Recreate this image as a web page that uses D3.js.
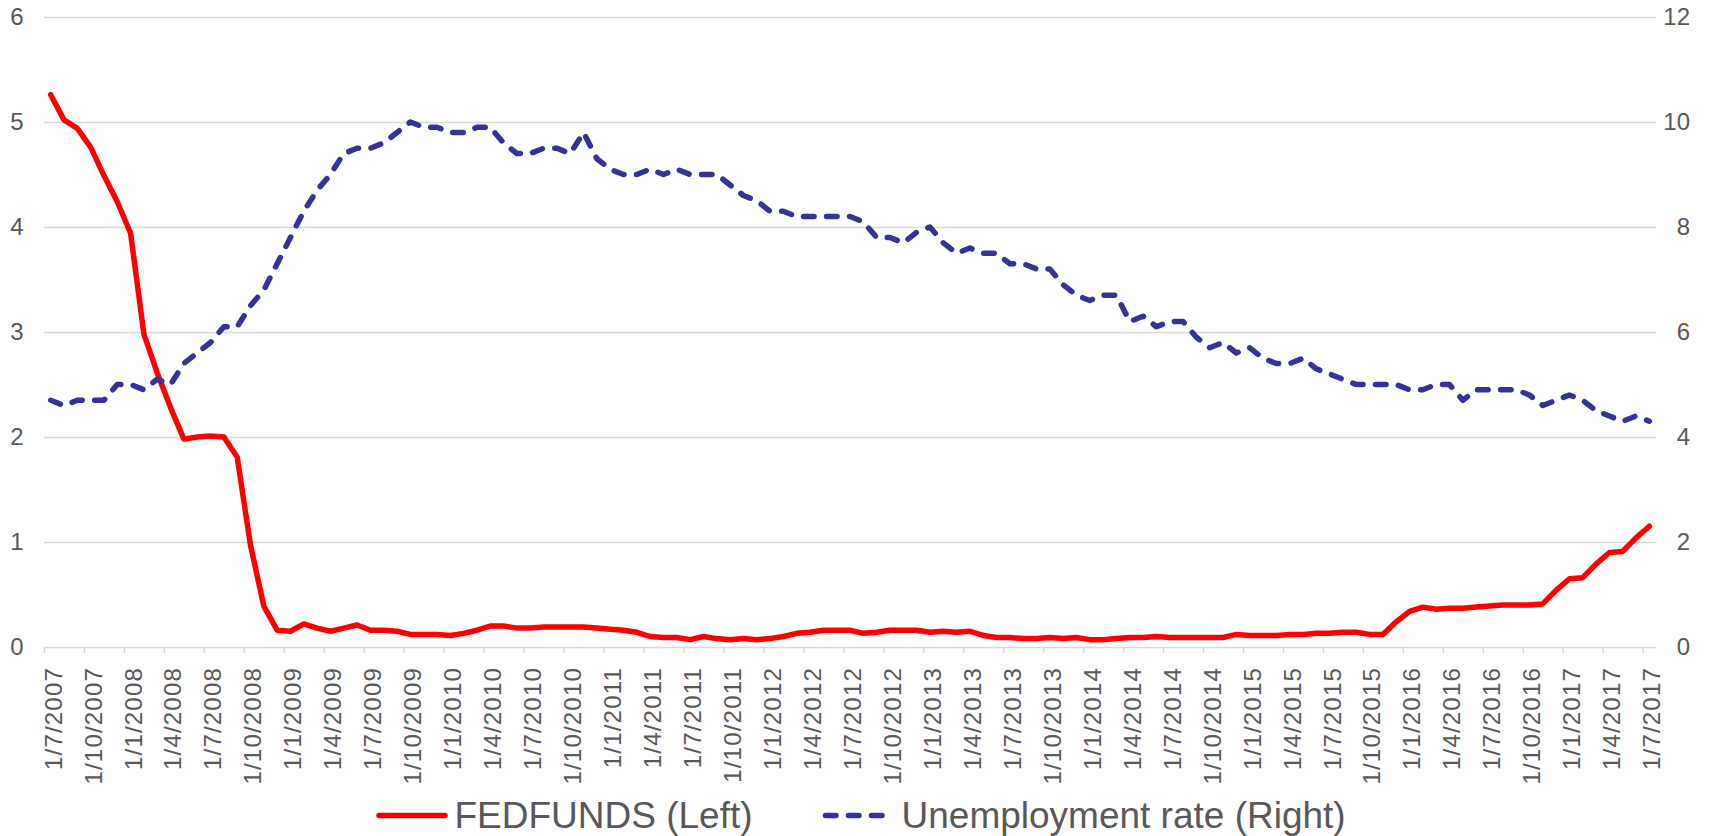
<!DOCTYPE html>
<html>
<head>
<meta charset="utf-8">
<script src="https://cdn.jsdelivr.net/npm/d3@7"></script>
<style>
  html, body { margin: 0; padding: 0; background: #ffffff; }
  svg { display: block; font-family: "Liberation Sans", Arial, sans-serif; }
</style>
</head>
<body>
<svg id="chart" width="1721" height="836"></svg>
<script>
// Categories: months from Jul 2007 to Jul 2017 (day/month/year)
const categories = [
  "1/7/2007","1/8/2007","1/9/2007","1/10/2007","1/11/2007","1/12/2007",
  "1/1/2008","1/2/2008","1/3/2008","1/4/2008","1/5/2008","1/6/2008","1/7/2008","1/8/2008","1/9/2008","1/10/2008","1/11/2008","1/12/2008",
  "1/1/2009","1/2/2009","1/3/2009","1/4/2009","1/5/2009","1/6/2009","1/7/2009","1/8/2009","1/9/2009","1/10/2009","1/11/2009","1/12/2009",
  "1/1/2010","1/2/2010","1/3/2010","1/4/2010","1/5/2010","1/6/2010","1/7/2010","1/8/2010","1/9/2010","1/10/2010","1/11/2010","1/12/2010",
  "1/1/2011","1/2/2011","1/3/2011","1/4/2011","1/5/2011","1/6/2011","1/7/2011","1/8/2011","1/9/2011","1/10/2011","1/11/2011","1/12/2011",
  "1/1/2012","1/2/2012","1/3/2012","1/4/2012","1/5/2012","1/6/2012","1/7/2012","1/8/2012","1/9/2012","1/10/2012","1/11/2012","1/12/2012",
  "1/1/2013","1/2/2013","1/3/2013","1/4/2013","1/5/2013","1/6/2013","1/7/2013","1/8/2013","1/9/2013","1/10/2013","1/11/2013","1/12/2013",
  "1/1/2014","1/2/2014","1/3/2014","1/4/2014","1/5/2014","1/6/2014","1/7/2014","1/8/2014","1/9/2014","1/10/2014","1/11/2014","1/12/2014",
  "1/1/2015","1/2/2015","1/3/2015","1/4/2015","1/5/2015","1/6/2015","1/7/2015","1/8/2015","1/9/2015","1/10/2015","1/11/2015","1/12/2015",
  "1/1/2016","1/2/2016","1/3/2016","1/4/2016","1/5/2016","1/6/2016","1/7/2016","1/8/2016","1/9/2016","1/10/2016","1/11/2016","1/12/2016",
  "1/1/2017","1/2/2017","1/3/2017","1/4/2017","1/5/2017","1/6/2017","1/7/2017"
];

// FEDFUNDS (left axis, %)
const fedfunds = [
  5.26, 5.02, 4.94, 4.76, 4.49, 4.24,
  3.94, 2.98, 2.61, 2.28, 1.98, 2.00, 2.01, 2.00, 1.81, 0.97, 0.39, 0.16,
  0.15, 0.22, 0.18, 0.15, 0.18, 0.21, 0.16, 0.16, 0.15, 0.12, 0.12, 0.12,
  0.11, 0.13, 0.16, 0.20, 0.20, 0.18, 0.18, 0.19, 0.19, 0.19, 0.19, 0.18,
  0.17, 0.16, 0.14, 0.10, 0.09, 0.09, 0.07, 0.10, 0.08, 0.07, 0.08, 0.07,
  0.08, 0.10, 0.13, 0.14, 0.16, 0.16, 0.16, 0.13, 0.14, 0.16, 0.16, 0.16,
  0.14, 0.15, 0.14, 0.15, 0.11, 0.09, 0.09, 0.08, 0.08, 0.09, 0.08, 0.09,
  0.07, 0.07, 0.08, 0.09, 0.09, 0.10, 0.09, 0.09, 0.09, 0.09, 0.09, 0.12,
  0.11, 0.11, 0.11, 0.12, 0.12, 0.13, 0.13, 0.14, 0.14, 0.12, 0.12, 0.24,
  0.34, 0.38, 0.36, 0.37, 0.37, 0.38, 0.39, 0.40, 0.40, 0.40, 0.41, 0.54,
  0.65, 0.66, 0.79, 0.90, 0.91, 1.04, 1.15
];

// Unemployment rate (right axis, %)
const unemployment = [
  4.7, 4.6, 4.7, 4.7, 4.7, 5.0,
  5.0, 4.9, 5.1, 5.0, 5.4, 5.6, 5.8, 6.1, 6.1, 6.5, 6.8, 7.3,
  7.8, 8.3, 8.7, 9.0, 9.4, 9.5, 9.5, 9.6, 9.8, 10.0, 9.9, 9.9,
  9.8, 9.8, 9.9, 9.9, 9.6, 9.4, 9.4, 9.5, 9.5, 9.4, 9.8, 9.3,
  9.1, 9.0, 9.0, 9.1, 9.0, 9.1, 9.0, 9.0, 9.0, 8.8, 8.6, 8.5,
  8.3, 8.3, 8.2, 8.2, 8.2, 8.2, 8.2, 8.1, 7.8, 7.8, 7.7, 7.9,
  8.0, 7.7, 7.5, 7.6, 7.5, 7.5, 7.3, 7.3, 7.2, 7.2, 6.9, 6.7,
  6.6, 6.7, 6.7, 6.2, 6.3, 6.1, 6.2, 6.2, 5.9, 5.7, 5.8, 5.6,
  5.7, 5.5, 5.4, 5.4, 5.5, 5.3, 5.2, 5.1, 5.0, 5.0, 5.0, 5.0,
  4.9, 4.9, 5.0, 5.0, 4.7, 4.9, 4.9, 4.9, 4.9, 4.8, 4.6, 4.7,
  4.8, 4.7, 4.5, 4.4, 4.3, 4.4, 4.3
];

// Axis tick values / labels
const leftTicks = [0, 1, 2, 3, 4, 5, 6];
const rightTicks = [0, 2, 4, 6, 8, 10, 12];
const tickLabels = [
  "1/7/2007","1/10/2007","1/1/2008","1/4/2008","1/7/2008","1/10/2008","1/1/2009","1/4/2009","1/7/2009","1/10/2009",
  "1/1/2010","1/4/2010","1/7/2010","1/10/2010","1/1/2011","1/4/2011","1/7/2011","1/10/2011","1/1/2012","1/4/2012",
  "1/7/2012","1/10/2012","1/1/2013","1/4/2013","1/7/2013","1/10/2013","1/1/2014","1/4/2014","1/7/2014","1/10/2014",
  "1/1/2015","1/4/2015","1/7/2015","1/10/2015","1/1/2016","1/4/2016","1/7/2016","1/10/2016","1/1/2017","1/4/2017","1/7/2017"
];
const seriesNames = ["FEDFUNDS (Left)", "Unemployment rate (Right)"];

(function draw() {
  const svg = d3.select("#chart");
  const pLeft = 44, pRight = 1656, pTop = 17, pBottom = 647;
  const textColor = "#595959", gridColor = "#d9d9d9";
  const red = "#ff0000", blue = "#333399";
  const font = "Liberation Sans, Arial, sans-serif";

  const x = d3.scaleLinear().domain([0, categories.length]).range([pLeft, pRight]);
  const yL = d3.scaleLinear().domain([0, 6]).range([pBottom, pTop]);
  const yR = d3.scaleLinear().domain([0, 12]).range([pBottom, pTop]);

  // gridlines + left labels
  const gl = svg.append("g").attr("transform", `translate(${pLeft},0)`)
    .call(d3.axisLeft(yL).tickValues(leftTicks).tickSize(-(pRight - pLeft)).tickPadding(20.5).tickFormat(d3.format("d")));
  gl.select(".domain").remove();
  gl.selectAll(".tick line").attr("stroke", gridColor).attr("stroke-width", 1.3);
  gl.selectAll(".tick text").attr("fill", textColor).attr("font-size", 24).attr("font-family", font);

  // right labels
  const gr = svg.append("g").attr("transform", `translate(${pRight},0)`)
    .call(d3.axisRight(yR).tickValues(rightTicks).tickSize(0).tickPadding(34).tickFormat(d3.format("d")));
  gr.select(".domain").remove();
  gr.selectAll(".tick text").attr("fill", textColor).attr("font-size", 24)
    .attr("text-anchor", "end").attr("font-family", font);

  // bottom tick marks at category boundaries every 3 months
  const gt = svg.append("g").attr("transform", `translate(0,${pBottom})`)
    .call(d3.axisBottom(x).tickValues(d3.range(0, categories.length, 3)).tickSize(6).tickFormat(""));
  gt.select(".domain").remove();
  gt.selectAll(".tick line").attr("stroke", gridColor).attr("stroke-width", 1.3);

  // bottom labels centered on categories
  const gx = svg.append("g").attr("transform", `translate(0,${pBottom})`)
    .call(d3.axisBottom(x).tickValues(d3.range(0, categories.length, 3).map(i => i + 0.5))
      .tickSize(0).tickFormat((d, k) => tickLabels[k]));
  gx.select(".domain").remove();
  gx.selectAll(".tick text")
    .attr("fill", textColor).attr("font-size", 24).attr("letter-spacing", 1.2)
    .attr("font-family", font)
    .attr("transform", "rotate(-90)")
    .attr("text-anchor", "end")
    .attr("x", -20).attr("y", 2).attr("dy", "0.35em");

  // lines
  const lineL = d3.line().x((d, i) => x(i + 0.5)).y(d => yL(d));
  const lineR = d3.line().x((d, i) => x(i + 0.5)).y(d => yR(d));

  svg.append("path").datum(fedfunds).attr("d", lineL)
    .attr("fill", "none").attr("stroke", red).attr("stroke-width", 5.5)
    .attr("stroke-linejoin", "round").attr("stroke-linecap", "round");

  svg.append("path").datum(unemployment).attr("d", lineR)
    .attr("fill", "none").attr("stroke", blue).attr("stroke-width", 5.5)
    .attr("stroke-linejoin", "round").attr("stroke-linecap", "round")
    .attr("stroke-dasharray", "10.5,12.5");

  // legend
  const ly = 815.5;
  const lg = svg.append("g").attr("font-family", font);
  lg.append("line").attr("x1", 379).attr("x2", 445).attr("y1", ly).attr("y2", ly)
    .attr("stroke", red).attr("stroke-width", 5.5).attr("stroke-linecap", "round");
  lg.append("text").attr("x", 454.5).attr("y", 827.5).attr("fill", textColor)
    .attr("font-size", 37).text(seriesNames[0]);
  lg.append("line").attr("x1", 825.5).attr("x2", 885).attr("y1", ly).attr("y2", ly)
    .attr("stroke", blue).attr("stroke-width", 5.5).attr("stroke-linecap", "round")
    .attr("stroke-dasharray", "10.5,12.5");
  lg.append("text").attr("x", 901.5).attr("y", 827.5).attr("fill", textColor)
    .attr("font-size", 37).text(seriesNames[1]);
})();
</script>
</body>
</html>
